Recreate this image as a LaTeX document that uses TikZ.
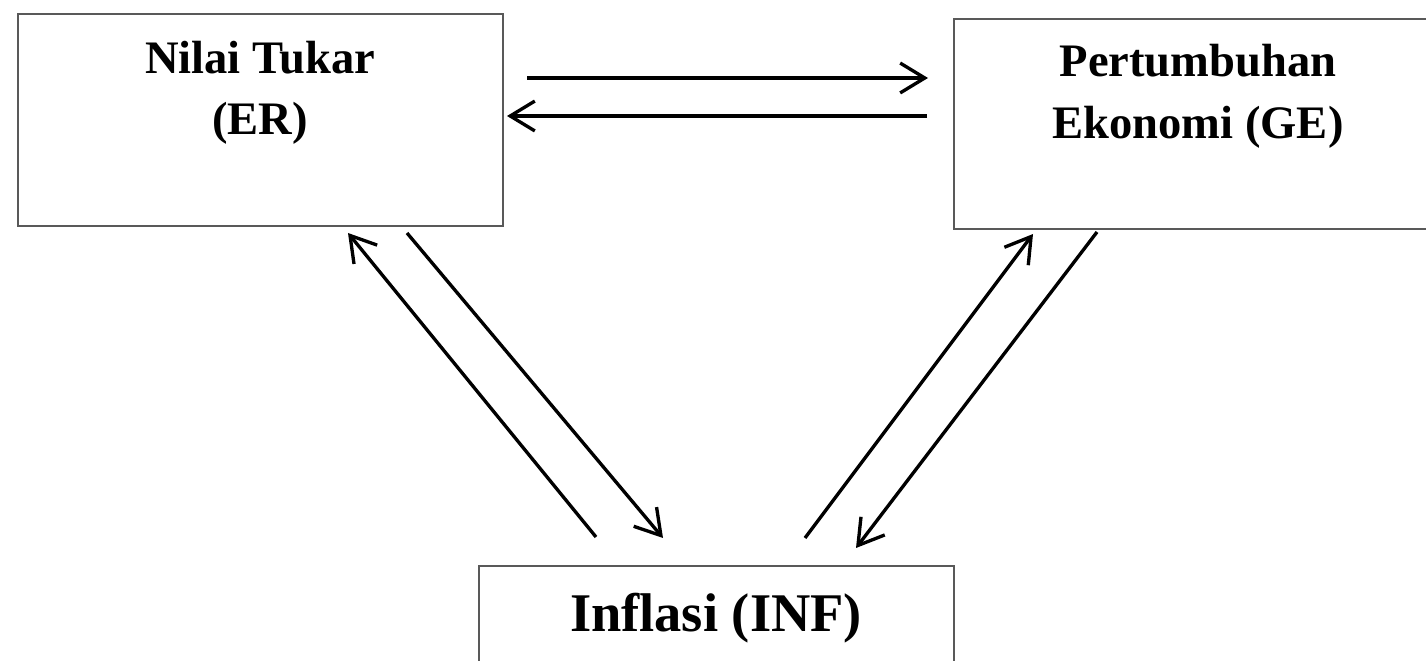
\documentclass[tikz,border=0pt]{standalone}
\usepackage{fontspec}
\setmainfont{Liberation Serif}
\usetikzlibrary{arrows.meta}
\begin{document}
\begin{tikzpicture}[x=0.02cm,y=-0.02cm,
  box/.style={draw=black!65, line width=1.2pt, inner sep=0pt, outer sep=0pt, anchor=north west},
  lbl/.style={font=\bfseries\fontsize{26.5}{30}\selectfont, anchor=base, inner sep=0pt},
  biglbl/.style={font=\bfseries\fontsize{31}{36}\selectfont, anchor=base, inner sep=0pt},
  arr/.style={line width=1.9pt, -{Straight Barb[length=14pt,width=17pt,line width=1.9pt]}}]
\useasboundingbox (0,0) rectangle (1426,661);
\begin{scope}
\clip (0,0) rectangle (1426,661);
\node[box, minimum width=9.7cm, minimum height=4.24cm] (er) at (18,14) {};
\node[box, minimum width=9.76cm, minimum height=4.2cm] (ge) at (954,19) {};
\node[box, minimum width=9.5cm, minimum height=2.8cm] (inf) at (479,566) {};
\end{scope}
\node[lbl] (erA) at (260,74) {Nilai Tukar};
\node[lbl] (erB) at (260,135) {(ER)};
\node[lbl] (geA) at (1198,77) {Pertumbuhan};
\node[lbl] (geB) at (1198,139) {Ekonomi (GE)};
\node[biglbl] (infA) at (716,631) {Inflasi (INF)};
% connector end points
\coordinate (t1s) at (527,78);  \coordinate (t1e) at (928,78);
\coordinate (t2s) at (927,116); \coordinate (t2e) at (507,116);
\coordinate (l1s) at (596,537); \coordinate (l1e) at (348,233);
\coordinate (l2s) at (407,233); \coordinate (l2e) at (663,538);
\coordinate (r1s) at (805,538); \coordinate (r1e) at (1033,234);
\coordinate (r2s) at (1097,232);\coordinate (r2e) at (856,548);
\draw[arr] (t1s) -- (t1e);
\draw[arr] (t2s) -- (t2e);
\draw[arr] (l1s) -- (l1e);
\draw[arr] (l2s) -- (l2e);
\draw[arr] (r1s) -- (r1e);
\draw[arr] (r2s) -- (r2e);
\end{tikzpicture}
\end{document}
